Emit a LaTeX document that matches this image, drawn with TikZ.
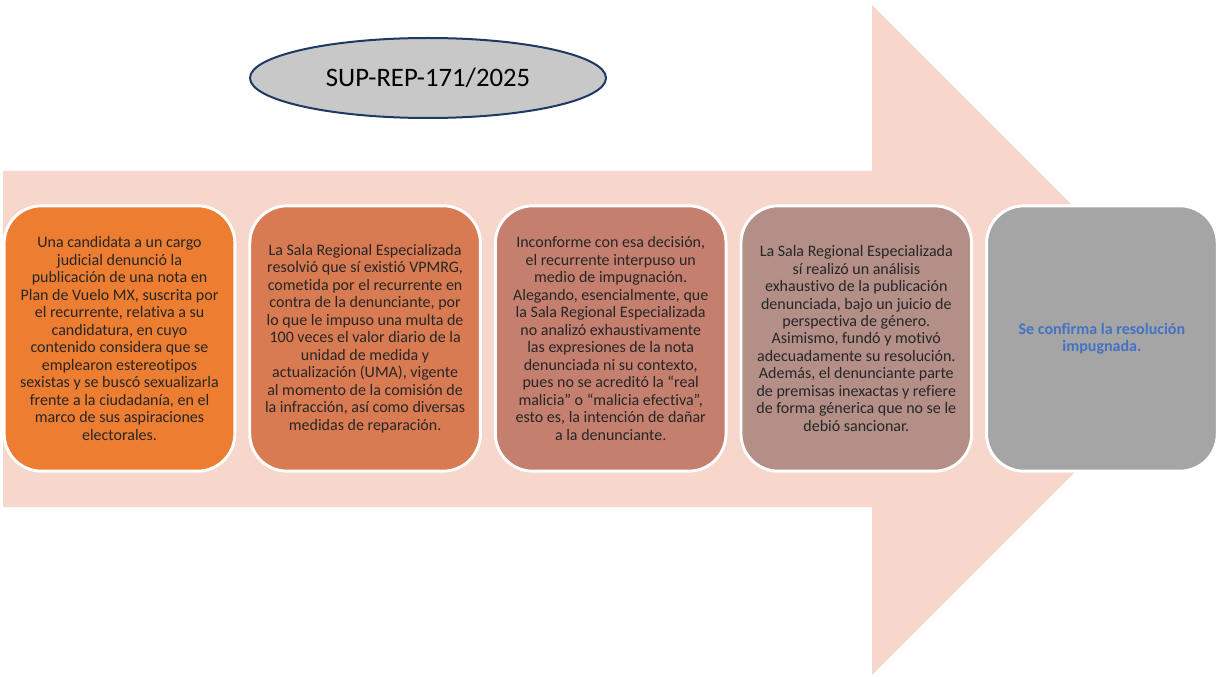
\documentclass[tikz,border=0pt]{standalone}
\usepackage{fontspec}
\setmainfont{Carlito}[Ligatures=NoCommon]
\usepackage{xcolor}
\usepackage{tikz}
\usetikzlibrary{positioning, shapes.geometric}

\definecolor{flecha}{HTML}{F7D6CB}
\definecolor{caja1}{HTML}{ED7D31}
\definecolor{caja2}{HTML}{D97B52}
\definecolor{caja3}{HTML}{C47F6F}
\definecolor{caja4}{HTML}{B48F88}
\definecolor{caja5}{HTML}{A5A5A5}
\definecolor{elipse}{HTML}{C8C8C8}
\definecolor{borde}{HTML}{1F3864}
\definecolor{azul}{HTML}{4472C4}

\tikzset{
	caja/.style={rectangle, rounded corners=28pt, draw=white, line width=2.2pt,
		minimum width=173pt, minimum height=199pt, align=center,
		font=\fontsize{12}{13.1}\selectfont, text=black!85},
	titulo/.style={ellipse, draw=borde, line width=1.5pt, fill=elipse,
		minimum width=267pt, minimum height=60pt, font=\fontsize{20}{24}\selectfont}
}

\begin{document}
\begin{tikzpicture}[x=0.75pt, y=-0.75pt]
	\useasboundingbox (0,0) rectangle (1216,677);
	\fill[flecha] (3,171) -- (872,171) -- (872,5) -- (1207,340) -- (872,675) -- (872,507) -- (3,507) -- cycle;
	
	\node[titulo] (expediente) at (428,78) {SUP-REP-171/2025};
	
	\node[caja, fill=caja1] (denuncia) at (119.5,338.5) {Una candidata a un cargo\\ judicial denunció la\\ publicación de una nota en\\ Plan de Vuelo MX, suscrita por\\ el recurrente, relativa a su\\ candidatura, en cuyo\\ contenido considera que se\\ emplearon estereotipos\\ sexistas y se buscó sexualizarla\\ frente a la ciudadanía, en el\\ marco de sus aspiraciones\\ electorales.};
	\node[caja, fill=caja2, right=9pt of denuncia] (sentencia) {La Sala Regional Especializada\\ resolvió que sí existió VPMRG,\\ cometida por el recurrente en\\ contra de la denunciante, por\\ lo que le impuso una multa de\\ 100 veces el valor diario de la\\ unidad de medida y\\ actualización (UMA), vigente\\ al momento de la comisión de\\ la infracción, así como diversas\\ medidas de reparación.};
	\node[caja, fill=caja3, right=9pt of sentencia] (agravio) {Inconforme con esa decisión,\\ el recurrente interpuso un\\ medio de impugnación.\\ Alegando, esencialmente, que\\ la Sala Regional Especializada\\ no analizó exhaustivamente\\ las expresiones de la nota\\ denunciada ni su contexto,\\ pues no se acreditó la “real\\ malicia” o “malicia efectiva”,\\ esto es, la intención de dañar\\ a la denunciante.};
	\node[caja, fill=caja4, right=9pt of agravio] (analisis) {La Sala Regional Especializada\\ sí realizó un análisis\\ exhaustivo de la publicación\\ denunciada, bajo un juicio de\\ perspectiva de género.\\ Asimismo, fundó y motivó\\ adecuadamente su resolución.\\ Además, el denunciante parte\\ de premisas inexactas y refiere\\ de forma génerica que no se le\\ debió sancionar.};
	\node[caja, fill=caja5, right=9pt of analisis, text=azul, font=\fontsize{12}{13.1}\selectfont\bfseries] (resolucion) {Se confirma la resolución\\ impugnada.};
\end{tikzpicture}
\end{document}
